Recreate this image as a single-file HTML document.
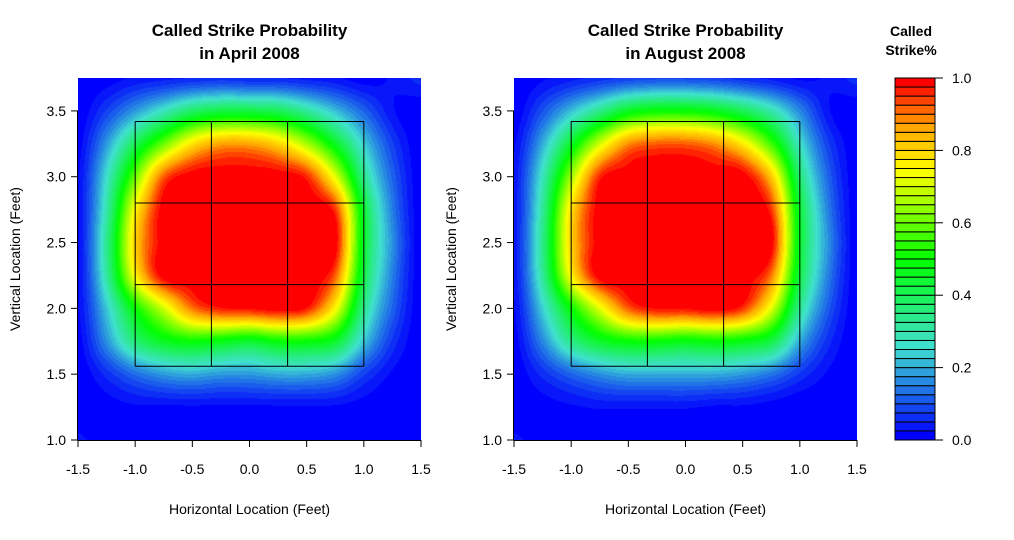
<!DOCTYPE html>
<html><head><meta charset="utf-8">
<style>
body{margin:0;background:#fff;width:1014px;height:540px;overflow:hidden;font-family:"Liberation Sans",Arial,sans-serif;}
#root{position:relative;width:1014px;height:540px;}
canvas{position:absolute;}
svg{position:absolute;left:0;top:0;}
</style></head>
<body>
<div id="root">
<canvas id="c1" width="343" height="362" style="left:78px;top:78px"></canvas>
<canvas id="c2" width="343" height="362" style="left:514px;top:78px"></canvas>
<svg id="s" width="1014" height="540"></svg>
</div>
<script>
const xGrid=[-1.5,-1.25,-1,-0.75,-0.5,-0.25,0,0.25,0.5,0.75,1,1.25,1.5];
const yGrid=[3.75,3.5,3.25,3.0,2.75,2.5,2.25,2.0,1.75,1.5,1.25,1.0];
const aprilValues=[
[0,.01,.03,.04,.05,.06,.05,.05,.04,.03,.01,.03,.06],
[0,.08,.18,.28,.38,.42,.42,.4,.32,.22,.12,.03,0],
[.01,.18,.4,.6,.78,.86,.86,.8,.66,.46,.24,.08,0],
[.02,.26,.6,.92,1,1,1,1,.96,.72,.34,.12,0],
[.02,.3,.75,1,1,1,1,1,1,.95,.44,.15,0],
[.02,.33,.8,1,1,1,1,1,1,1,.45,.17,0],
[.02,.31,.75,1,1,1,1,1,1,.92,.42,.15,0],
[.02,.23,.5,.7,.9,.97,.98,1,.97,.75,.34,.12,0],
[.01,.17,.36,.46,.5,.48,.45,.5,.5,.45,.23,.07,0],
[0,.06,.13,.18,.2,.18,.18,.2,.2,.17,.08,.02,0],
[0,.01,.02,.02,.02,.02,.02,.02,.02,.02,.01,0,0],
[.03,.01,0,0,0,0,0,0,0,0,0,0,0]];
const augustValues=[
[0,.02,.04,.06,.08,.09,.09,.08,.06,.04,.02,.03,.06],
[0,.1,.22,.34,.46,.5,.5,.47,.4,.3,.16,.03,0],
[.02,.2,.45,.7,.88,.92,.92,.88,.77,.56,.27,.08,0],
[.03,.28,.65,.96,1,1,1,1,1,.82,.37,.12,0],
[.03,.32,.78,1,1,1,1,1,1,.95,.44,.15,0],
[.03,.34,.8,1,1,1,1,1,1,1,.45,.17,0],
[.03,.32,.75,1,1,1,1,1,1,.9,.42,.15,0],
[.02,.24,.5,.72,.92,.98,.98,1,.95,.72,.33,.11,0],
[.01,.16,.34,.45,.5,.5,.48,.5,.48,.42,.2,.06,0],
[0,.06,.12,.17,.2,.2,.2,.2,.18,.14,.07,.02,0],
[0,.01,.02,.03,.03,.03,.03,.02,.02,.01,0,0,0],
[.03,.01,0,0,0,0,0,0,0,0,0,0,0]];
const xTicks=[-1.5,-1.0,-0.5,0.0,0.5,1.0,1.5];
const yTicks=[1.0,1.5,2.0,2.5,3.0,3.5];
const cbTicks=[0.0,0.2,0.4,0.6,0.8,1.0];
const zoneX=[-1,-1/3,1/3,1];
const zoneY=[1.56,2.18,2.8,3.42];

const stops=[[0,[0,0,255]],[0.25,[64,224,208]],[0.5,[0,255,0]],[0.75,[255,255,0]],[0.875,[255,165,0]],[1,[255,0,0]]];
function pal(v){for(let i=1;i<stops.length;i++){if(v<=stops[i][0]){const a=stops[i-1],b=stops[i];const t=(v-a[0])/(b[0]-a[0]);return a[1].map((c,j)=>Math.round(c+(b[1][j]-c)*t));}}return [255,0,0];}
const NL=40;
function levelColor(k){return pal(k/(NL-1));}

const W=343,H=362;
function sx(x){return (x+1.5)/3*W;}
function sy(y){return (3.75-y)/2.75*H;}
function cr(p0,p1,p2,p3,t){return 0.5*((2*p1)+(-p0+p2)*t+(2*p0-5*p1+4*p2-p3)*t*t+(-p0+3*p1-3*p2+p3)*t*t*t);}
function sample(vals,x,y){
  let fx=(x+1.5)/0.25, fy=(3.75-y)/0.25;
  fx=Math.max(0,Math.min(12,fx)); fy=Math.max(0,Math.min(11,fy));
  const i=Math.min(11,Math.floor(fx)), j=Math.min(10,Math.floor(fy));
  const tx=fx-i, ty=fy-j;
  const g=(r,c)=>vals[Math.max(0,Math.min(11,r))][Math.max(0,Math.min(12,c))];
  const rows=[];
  for(let r=-1;r<=2;r++)rows.push(cr(g(j+r,i-1),g(j+r,i),g(j+r,i+1),g(j+r,i+2),tx));
  return cr(rows[0],rows[1],rows[2],rows[3],ty);
}
function draw(id,vals){
  const ctx=document.getElementById(id).getContext('2d');
  const img=ctx.createImageData(W,H);
  for(let py=0;py<H;py++)for(let px=0;px<W;px++){
    const x=-1.5+(px+0.5)/W*3, y=3.75-(py+0.5)/H*2.75;
    let v=sample(vals,x,y);
    let k=Math.max(0,Math.min(NL-1,Math.floor(v*NL)));
    const c=levelColor(k);const o=(py*W+px)*4;
    img.data[o]=c[0];img.data[o+1]=c[1];img.data[o+2]=c[2];img.data[o+3]=255;
  }
  ctx.putImageData(img,0,0);
}
draw('c1',aprilValues);draw('c2',augustValues);

const s=document.getElementById('s');const NS='http://www.w3.org/2000/svg';
function el(t,a,txt){const e=document.createElementNS(NS,t);for(const k in a)e.setAttribute(k,a[k]);if(txt!=null)e.textContent=txt;s.appendChild(e);return e;}
function panel(ox,title1,title2,pname){
  const X=x=>ox+sx(x), Y=y=>78+sy(y);
  zoneX.forEach(zx=>{const l=el('line',{x1:X(zx),x2:X(zx),y1:Y(zoneY[0]),y2:Y(zoneY[3]),stroke:'#000','stroke-width':1});
    
    });
  zoneY.forEach(zy=>{const l=el('line',{x1:X(zoneX[0]),x2:X(zoneX[3]),y1:Y(zy),y2:Y(zy),stroke:'#000','stroke-width':1});
    
    });
  const ax=el('line',{x1:X(-1.5),x2:X(1.5),y1:440.5,y2:440.5,stroke:'#000'});
  
  
  xTicks.forEach(t=>{el('line',{x1:X(t),x2:X(t),y1:440,y2:447,stroke:'#000'});
    const tx=el('text',{x:X(t),y:474,'text-anchor':'middle','font-size':14},t.toFixed(1));
    
    });
  const ay=el('line',{x1:ox-0.5,x2:ox-0.5,y1:Y(1),y2:Y(3.5),stroke:'#000'});
  
  
  yTicks.forEach(t=>{el('line',{x1:ox,x2:ox-7,y1:Y(t),y2:Y(t),stroke:'#000'});
    const tx=el('text',{x:ox-12,y:Y(t)+5,'text-anchor':'end','font-size':14},t.toFixed(1));
    
    });
  const cx=ox+W/2;
  const t1=el('text',{x:cx,y:36,'text-anchor':'middle','font-size':17,'font-weight':'bold'},title1);
  
  
  el('text',{x:cx,y:59,'text-anchor':'middle','font-size':17,'font-weight':'bold'},title2);
  const xl=el('text',{x:cx,y:514,'text-anchor':'middle','font-size':14},'Horizontal Location (Feet)');
  
  
  const yl=el('text',{x:0,y:0,'text-anchor':'middle','font-size':14,transform:`translate(${ox-58},${Y(2.375)}) rotate(-90)`},'Vertical Location (Feet)');
  
  
}
panel(78,'Called Strike Probability','in April 2008','april');
panel(514,'Called Strike Probability','in August 2008','august');

const cbTop=78,cbH=362,cbL=895,cbW=40;
for(let k=0;k<NL;k++){
  const c=levelColor(k);
  const y1=cbTop+cbH-(k+1)*cbH/NL;
  const r=el('rect',{x:cbL,y:y1,width:cbW,height:cbH/NL,fill:`rgb(${c[0]},${c[1]},${c[2]})`,stroke:'#000','stroke-width':1});
  
  
}
cbTicks.forEach(t=>{const y=cbTop+cbH-t*cbH;el('line',{x1:cbL+cbW,x2:cbL+cbW+8,y1:y,y2:y,stroke:'#000'});
  const tx=el('text',{x:952,y:y+5,'font-size':14},t.toFixed(1));
  
  });
const ct=el('text',{x:911,y:36,'text-anchor':'middle','font-size':14,'font-weight':'bold'},'Called');


el('text',{x:911,y:55,'text-anchor':'middle','font-size':14,'font-weight':'bold'},'Strike%');
</script>
</body></html>
